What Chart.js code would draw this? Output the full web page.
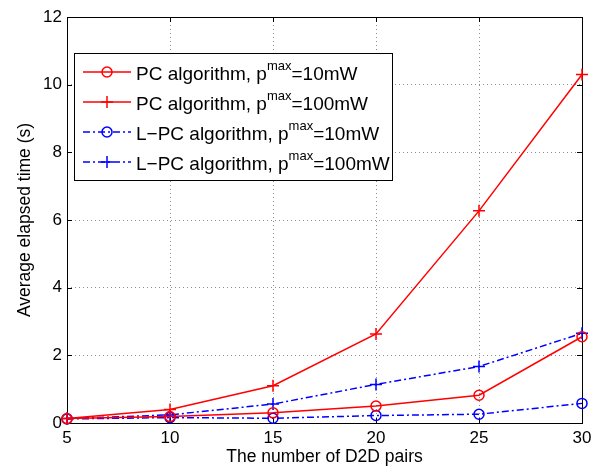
<!DOCTYPE html>
<html>
<head>
<meta charset="utf-8">
<script src="https://cdn.jsdelivr.net/npm/chart.js@4/dist/chart.umd.min.js"></script>
<style>
  html, body { margin: 0; padding: 0; background: #fff; }
</style>
</head>
<body>
<canvas id="chart" width="600" height="471"></canvas>
<script>
// number of D2D pairs
const pairs = [5, 10, 15, 20, 25, 30];
// average elapsed time (s)
const pc10 = [0.13, 0.19, 0.30, 0.50, 0.82, 2.55];
const pc100 = [0.13, 0.40, 1.10, 2.63, 6.27, 10.30];
const lpc10 = [0.12, 0.16, 0.14, 0.22, 0.26, 0.58];
const lpc100 = [0.13, 0.24, 0.56, 1.14, 1.67, 2.65];
const xTicks = [5, 10, 15, 20, 25, 30];
const yTicks = [0, 2, 4, 6, 8, 10, 12];

const legendItems = [
  { pre: 'PC algorithm, p', post: '=10mW', color: '#ff0000', dash: [], marker: 'circle' },
  { pre: 'PC algorithm, p', post: '=100mW', color: '#ff0000', dash: [], marker: 'cross' },
  { pre: 'L\u2212PC algorithm, p', post: '=10mW', color: '#0000ff', dash: [7, 3, 2, 3], marker: 'circle' },
  { pre: 'L\u2212PC algorithm, p', post: '=100mW', color: '#0000ff', dash: [7, 3, 2, 3], marker: 'cross' }
];

const FONT = 'Arial, "Liberation Sans", Helvetica, sans-serif';

function toPoints(values) {
  return values.map((v, i) => ({ x: pairs[i], y: v }));
}

function series(label, values, color, dash, marker) {
  return {
    label: label,
    data: toPoints(values),
    borderColor: color,
    backgroundColor: 'rgba(0,0,0,0)',
    borderWidth: 1.5,
    borderDash: dash,
    pointStyle: marker,
    pointRadius: marker === 'circle' ? 5 : 6,
    pointBorderWidth: 1.5,
    pointBorderColor: color,
    pointBackgroundColor: 'rgba(0,0,0,0)',
    tension: 0,
    clip: false
  };
}

function drawMarker(ctx, type, x, y, color) {
  ctx.save();
  ctx.setLineDash([]);
  ctx.strokeStyle = color;
  ctx.lineWidth = 1.5;
  ctx.beginPath();
  if (type === 'circle') {
    ctx.arc(x, y, 5, 0, Math.PI * 2);
  } else {
    ctx.moveTo(x - 6, y); ctx.lineTo(x + 6, y);
    ctx.moveTo(x, y - 6); ctx.lineTo(x, y + 6);
  }
  ctx.stroke();
  ctx.restore();
}

// axes box with inward ticks, MATLAB style
const boxPlugin = {
  id: 'box',
  beforeDatasetsDraw(chart) {
    const { ctx, chartArea: a, scales } = chart;
    ctx.save();
    ctx.strokeStyle = '#000';
    ctx.lineWidth = 1;
    ctx.beginPath();
    xTicks.forEach(t => {
      const px = Math.round(scales.x.getPixelForValue(t)) + 0.5;
      ctx.moveTo(px, a.bottom); ctx.lineTo(px, a.bottom - 5);
      ctx.moveTo(px, a.top); ctx.lineTo(px, a.top + 5);
    });
    yTicks.forEach(t => {
      const py = Math.round(scales.y.getPixelForValue(t)) + 0.5;
      ctx.moveTo(a.left, py); ctx.lineTo(a.left + 5, py);
      ctx.moveTo(a.right, py); ctx.lineTo(a.right - 5, py);
    });
    ctx.stroke();
    ctx.strokeRect(Math.round(a.left) + 0.5, Math.round(a.top) + 0.5,
      Math.round(a.right - a.left), Math.round(a.bottom - a.top));
    ctx.restore();
  }
};

// legend with superscript text
const legendPlugin = {
  id: 'supLegend',
  afterDraw(chart) {
    const ctx = chart.ctx;
    const bx = 74, by = 53, bw = 318, bh = 127;
    ctx.save();
    ctx.fillStyle = '#fff';
    ctx.fillRect(bx, by, bw, bh);
    ctx.strokeStyle = '#000';
    ctx.lineWidth = 1;
    ctx.strokeRect(bx + 0.5, by + 0.5, bw, bh);
    const rows = [72, 102, 132, 162];
    legendItems.forEach((item, i) => {
      const y = rows[i];
      ctx.save();
      ctx.strokeStyle = item.color;
      ctx.lineWidth = 1.5;
      ctx.setLineDash(item.dash);
      ctx.beginPath();
      ctx.moveTo(83, y);
      ctx.lineTo(131, y);
      ctx.stroke();
      ctx.restore();
      drawMarker(ctx, item.marker, 107, y, item.color);

      ctx.fillStyle = '#000';
      ctx.textBaseline = 'alphabetic';
      ctx.font = '19px ' + FONT;
      let x = 136;
      ctx.fillText(item.pre, x, y + 8);
      x += ctx.measureText(item.pre).width;
      ctx.font = '13px ' + FONT;
      ctx.fillText('max', x, y - 2);
      x += ctx.measureText('max').width;
      ctx.font = '19px ' + FONT;
      ctx.fillText(item.post, x, y + 8);
    });
    ctx.restore();
  }
};

new Chart(document.getElementById('chart'), {
  type: 'line',
  data: {
    datasets: [
      series('PC algorithm, pmax=10mW', pc10, '#ff0000', [], 'circle'),
      series('PC algorithm, pmax=100mW', pc100, '#ff0000', [], 'cross'),
      series('L-PC algorithm, pmax=10mW', lpc10, '#0000ff', [7, 3, 2, 3], 'circle'),
      series('L-PC algorithm, pmax=100mW', lpc100, '#0000ff', [7, 3, 2, 3], 'cross')
    ]
  },
  options: {
    responsive: false,
    animation: false,
    layout: { padding: { top: 17, right: 18, left: 0, bottom: 0 } },
    plugins: {
      legend: { display: false },
      tooltip: { enabled: false }
    },
    scales: {
      x: {
        type: 'linear',
        min: 5,
        max: 30,
        afterFit(scale) { scale.height = 48; },
        afterBuildTicks(scale) { scale.ticks = xTicks.map(v => ({ value: v })); },
        ticks: { color: '#000', font: { family: FONT, size: 17 }, padding: 5, maxRotation: 0 },
        grid: { color: '#8c8c8c', drawTicks: false, lineWidth: 1 },
        border: { display: false, dash: [1, 3] },
        title: {
          display: true,
          text: 'The number of D2D pairs',
          color: '#000',
          font: { family: FONT, size: 17.5 },
          padding: { top: 3, bottom: 3 }
        }
      },
      y: {
        min: 0,
        max: 12,
        afterFit(scale) { scale.width = 67; },
        afterBuildTicks(scale) { scale.ticks = yTicks.map(v => ({ value: v })); },
        ticks: { color: '#000', font: { family: FONT, size: 17 }, padding: 5 },
        grid: { color: '#8c8c8c', drawTicks: false, lineWidth: 1 },
        border: { display: false, dash: [1, 3] },
        title: {
          display: true,
          text: 'Average elapsed time (s)',
          color: '#000',
          font: { family: FONT, size: 17.5 },
          padding: { top: 15, bottom: 15 }
        }
      }
    }
  },
  plugins: [boxPlugin, legendPlugin]
});
</script>
</body>
</html>
